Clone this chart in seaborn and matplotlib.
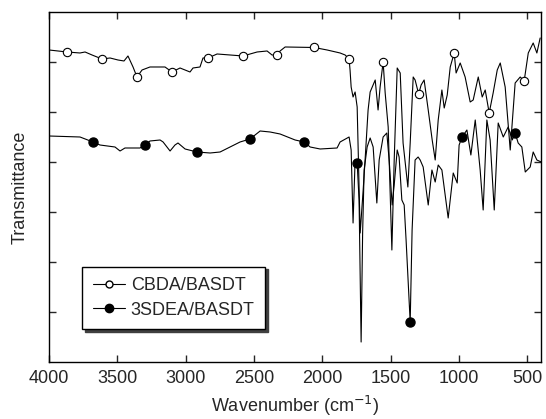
import numpy as np
import pandas as pd
import matplotlib
matplotlib.use("Agg")
import matplotlib.pyplot as plt
from matplotlib.lines import Line2D
import seaborn as sns

sns.set_style("ticks")
plt.rcParams['font.family'] = ['Liberation Sans', 'DejaVu Sans']

# CBDA/BASDT spectrum (wavenumber, transmittance a.u.)
cbda_wn = [4000, 3868, 3773, 3736, 3685, 3612, 3553, 3495, 3451, 3422, 3385, 3356, 3319, 3261,
           3151, 3100, 3041, 2968, 2946, 2895, 2873, 2836, 2770, 2580, 2477, 2404, 2368, 2331,
           2309, 2272, 2060, 1965, 1870, 1833, 1804, 1797, 1789, 1775, 1760, 1745, 1723, 1701,
           1687, 1665, 1650, 1613, 1592, 1577, 1555, 1540, 1518, 1491, 1474, 1452, 1430, 1409,
           1374, 1357, 1335, 1321, 1295, 1277, 1255, 1225, 1196, 1174, 1152, 1125, 1108, 1086,
           1064, 1035, 1021, 991, 955, 918, 896, 859, 830, 808, 779, 750, 720, 698, 662, 625,
           589, 552, 523, 493, 457, 430, 406]
cbda_t = [6.24, 6.20, 6.18, 6.20, 6.14, 6.06, 6.08, 6.04, 6.02, 6.12, 5.90, 5.70, 5.84, 5.90,
          5.90, 5.80, 5.88, 5.80, 5.88, 5.90, 6.08, 6.08, 6.16, 6.12, 6.20, 6.22, 6.14, 6.14,
          6.22, 6.30, 6.29, 6.24, 6.18, 6.14, 6.06, 5.84, 5.50, 5.30, 5.40, 5.10, 2.58, 3.44,
          4.04, 5.04, 5.40, 5.64, 5.04, 5.50, 6.00, 5.38, 4.70, 2.24, 4.04, 5.88, 5.78, 4.38,
          3.50, 4.38, 5.70, 5.64, 5.36, 5.54, 5.64, 5.04, 4.44, 4.04, 4.84, 5.44, 5.08, 5.34,
          5.90, 6.18, 5.78, 5.98, 5.70, 5.20, 5.24, 5.70, 5.30, 5.44, 4.98, 5.38, 5.84, 5.98,
          5.50, 4.24, 5.58, 5.70, 5.62, 6.18, 6.38, 6.18, 6.48]
cbda_marks = [3868, 3612, 3356, 3100, 2836, 2580, 2331, 2060, 1804, 1555, 1295, 1035, 779, 523]

# 3SDEA/BASDT spectrum
sdea_wn = [4000, 3773, 3678, 3627, 3517, 3480, 3444, 3334, 3297, 3261, 3187, 3165, 3114, 3078,
           3056, 3004, 2917, 2821, 2748, 2602, 2529, 2455, 2382, 2309, 2199, 2133, 2089, 2016,
           1892, 1870, 1804, 1789, 1775, 1760, 1745, 1731, 1716, 1705, 1694, 1672, 1650, 1628,
           1601, 1584, 1555, 1528, 1511, 1489, 1474, 1452, 1438, 1418, 1401, 1387, 1357, 1343,
           1321, 1299, 1284, 1262, 1225, 1198, 1174, 1152, 1125, 1079, 1042, 1013, 999, 977,
           942, 913, 881, 845, 823, 796, 772, 742, 713, 676, 640, 610, 589, 567, 540, 515,
           479, 457, 430, 398]
sdea_t = [4.52, 4.50, 4.40, 4.34, 4.30, 4.22, 4.28, 4.28, 4.34, 4.42, 4.44, 4.40, 4.22, 4.34,
          4.38, 4.26, 4.20, 4.18, 4.20, 4.40, 4.46, 4.62, 4.60, 4.56, 4.44, 4.40, 4.30, 4.26,
          4.28, 4.40, 4.50, 4.24, 2.78, 4.04, 3.98, 3.24, 0.40, 2.58, 3.84, 4.30, 4.48, 4.30,
          3.18, 4.04, 4.50, 4.58, 4.04, 3.14, 3.54, 4.24, 4.10, 3.24, 3.14, 2.44, 0.80, 2.64,
          4.04, 4.10, 4.04, 3.90, 3.14, 3.84, 3.60, 3.94, 3.84, 2.88, 3.78, 3.58, 4.34, 4.50,
          4.64, 4.14, 4.84, 3.84, 3.04, 4.84, 4.44, 3.04, 4.78, 4.50, 4.70, 4.44, 4.58, 4.38,
          4.30, 3.80, 3.90, 4.20, 4.04, 4.00]
sdea_marks = [3678, 3297, 2917, 2529, 2133, 1745, 1357, 977, 589]

labels = ["CBDA/BASDT", "3SDEA/BASDT"]
xticks = [4000, 3500, 3000, 2500, 2000, 1500, 1000, 500]

fig = plt.figure(figsize=(5.46, 4.19), dpi=100)
ax = fig.add_axes([0.0897, 0.136, 0.9011, 0.8354])

df1 = pd.DataFrame({"wn": cbda_wn, "t": cbda_t})
df2 = pd.DataFrame({"wn": sdea_wn, "t": sdea_t})
sns.lineplot(data=df1, x="wn", y="t", color="black", lw=0.8, estimator=None, ax=ax)
sns.lineplot(data=df2, x="wn", y="t", color="black", lw=0.8, estimator=None, ax=ax)

m1y = np.interp(cbda_marks, cbda_wn[::-1], cbda_t[::-1])
m2y = np.interp(sdea_marks, sdea_wn[::-1], sdea_t[::-1])
ax.plot(cbda_marks, m1y, ls="none", marker="o", ms=6, mfc="white", mec="black", mew=0.8, zorder=3)
ax.plot(sdea_marks, m2y, ls="none", marker="o", ms=6.5, mfc="black", mec="black", zorder=3)

ax.set_xlim(4000, 400)
ax.set_ylim(0, 7)
ax.set_xticks(xticks)
ax.set_xticklabels([str(v) for v in xticks])
ax.set_yticks([1, 2, 3, 4, 5, 6])
ax.set_yticklabels([])
ax.tick_params(direction="in", top=True, right=True, length=5, width=1, labelsize=13, pad=6)
for s in ax.spines.values():
    s.set_linewidth(1.0)
    s.set_color("black")
ax.set_xlabel("Wavenumber (cm$^{-1}$)", fontsize=13, labelpad=5)
ax.set_ylabel("Transmittance", fontsize=13, labelpad=9)

handles = [Line2D([], [], color="black", lw=0.8, marker="o", ms=5, mfc="white", mec="black"),
           Line2D([], [], color="black", lw=0.8, marker="o", ms=6, mfc="black", mec="black")]
leg = ax.legend(handles, labels, loc="lower left", bbox_to_anchor=(0.067, 0.093),
                frameon=True, fancybox=False, shadow={"color": "0.25", "alpha": 1.0, "ox": 2, "oy": -2},
                fontsize=13, handlelength=1.8, handletextpad=0.3, borderpad=0.6,
                labelspacing=0.4, borderaxespad=0)
leg.get_frame().set_edgecolor("black")
leg.get_frame().set_linewidth(1.0)

fig.savefig("out.png", dpi=100)
